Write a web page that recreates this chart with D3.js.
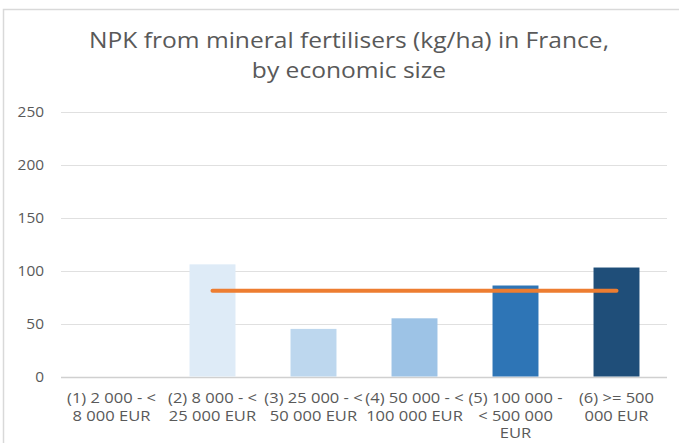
<!DOCTYPE html>
<html>
<head>
<meta charset="utf-8">
<script src="https://cdn.jsdelivr.net/npm/d3@7"></script>
<style>
  html, body { margin: 0; padding: 0; background: #fff; }
  svg { display: block; font-family: "Open Sans", Lato, sans-serif; }
</style>
</head>
<body>
<div id="app"></div>
<script>
// data
const categories = [
    "(1) 2 000 - <|8 000 EUR",
    "(2) 8 000 - <|25 000 EUR",
    "(3) 25 000 - <|50 000 EUR",
    "(4) 50 000 - <|100 000 EUR",
    "(5) 100 000 -|< 500 000|EUR",
    "(6) >= 500|000 EUR"
];
const barValues = [null, 106, 45, 55, 86, 103];
const averageValues = [null, 81, 81, 81, 81, 81];
const barColors = ["#f2f7fc", "#deebf7", "#bdd7ee", "#9dc3e6", "#2e75b6", "#1f4e79"];
const yTicks = [0, 50, 100, 150, 200, 250];
const titleLines = ["NPK from mineral fertilisers (kg/ha) in France,", "by economic size"];

const W = 679, H = 446;
const margin = { top: 112, right: 12, bottom: 70, left: 61 };

const svg = d3.select("#app").append("svg")
    .attr("width", W)
    .attr("height", H);

// chart frame (only top and left edges show in the picture)
svg.append("path")
    .attr("d", `M3.5,443 L3.5,9.5 L${W},9.5`)
    .attr("fill", "none")
    .attr("stroke", "#d9d9d9")
    .attr("stroke-width", 1.5);

// the picture's text is a bit wider than the font, so stretch it
function widen(stretch) {
    return (sel) => sel.each(function () {
        const len = this.getComputedTextLength();
        d3.select(this)
            .attr("textLength", len * stretch)
            .attr("lengthAdjust", "spacingAndGlyphs");
    });
}

// title
svg.append("g")
    .selectAll("text")
    .data(titleLines)
    .enter()
    .append("text")
    .attr("x", 349)
    .attr("y", (d, i) => 48 + i * 30)
    .attr("text-anchor", "middle")
    .attr("fill", "#595959")
    .style("font-size", "21px")
    .text((d) => d)
    .call(widen(1.17));

const x = d3.scaleBand()
    .domain(categories)
    .range([margin.left, W - margin.right])
    .paddingInner(0.545)
    .paddingOuter(0.2725);

const y = d3.scaleLinear()
    .domain([0, 250])
    .range([376.5, 112]);

// gridlines
svg.append("g")
    .selectAll("line")
    .data(yTicks)
    .enter()
    .append("line")
    .attr("x1", margin.left)
    .attr("x2", W - margin.right)
    .attr("y1", (d) => Math.round(y(d)) + 0.5)
    .attr("y2", (d) => Math.round(y(d)) + 0.5)
    .attr("stroke", (d) => (d === 0 ? "#d0d0d0" : "#e0e0e0"))
    .attr("stroke-width", (d) => (d === 0 ? 1.5 : 1));

// y axis labels
svg.append("g")
    .selectAll("text")
    .data(yTicks)
    .enter()
    .append("text")
    .attr("x", 44)
    .attr("y", (d) => y(d) + 5)
    .attr("text-anchor", "end")
    .attr("fill", "#595959")
    .style("font-size", "14px")
    .text((d) => d)
    .call(widen(1.1));

// bars
svg.append("g")
    .selectAll("rect")
    .data(categories.map((c, i) => ({ c, v: barValues[i], color: barColors[i] })).filter((d) => d.v != null))
    .enter()
    .append("rect")
    .attr("x", (d) => x(d.c))
    .attr("width", x.bandwidth())
    .attr("y", (d) => y(d.v))
    .attr("height", (d) => y(0) - y(d.v))
    .attr("fill", (d) => d.color);

// average line
const lineData = categories.map((c, i) => ({ c, v: averageValues[i] }));
svg.append("path")
    .datum(lineData)
    .attr("fill", "none")
    .attr("stroke", "#ed7d31")
    .attr("stroke-width", 4)
    .attr("stroke-linecap", "round")
    .attr("d", d3.line()
        .defined((d) => d.v != null)
        .x((d) => x(d.c) + x.bandwidth() / 2)
        .y((d) => y(d.v)));

// category labels, one text per line
const labelLines = [];
categories.forEach((c) => {
    c.split("|").forEach((t, i) => labelLines.push({ c, t, i }));
});

svg.append("g")
    .selectAll("text")
    .data(labelLines)
    .enter()
    .append("text")
    .attr("x", (d) => x(d.c) + x.bandwidth() / 2)
    .attr("y", (d) => 403 + d.i * 17.5)
    .attr("text-anchor", "middle")
    .attr("fill", "#595959")
    .style("font-size", "14px")
    .text((d) => d.t)
    .call(widen(1.18));
</script>
</body>
</html>
